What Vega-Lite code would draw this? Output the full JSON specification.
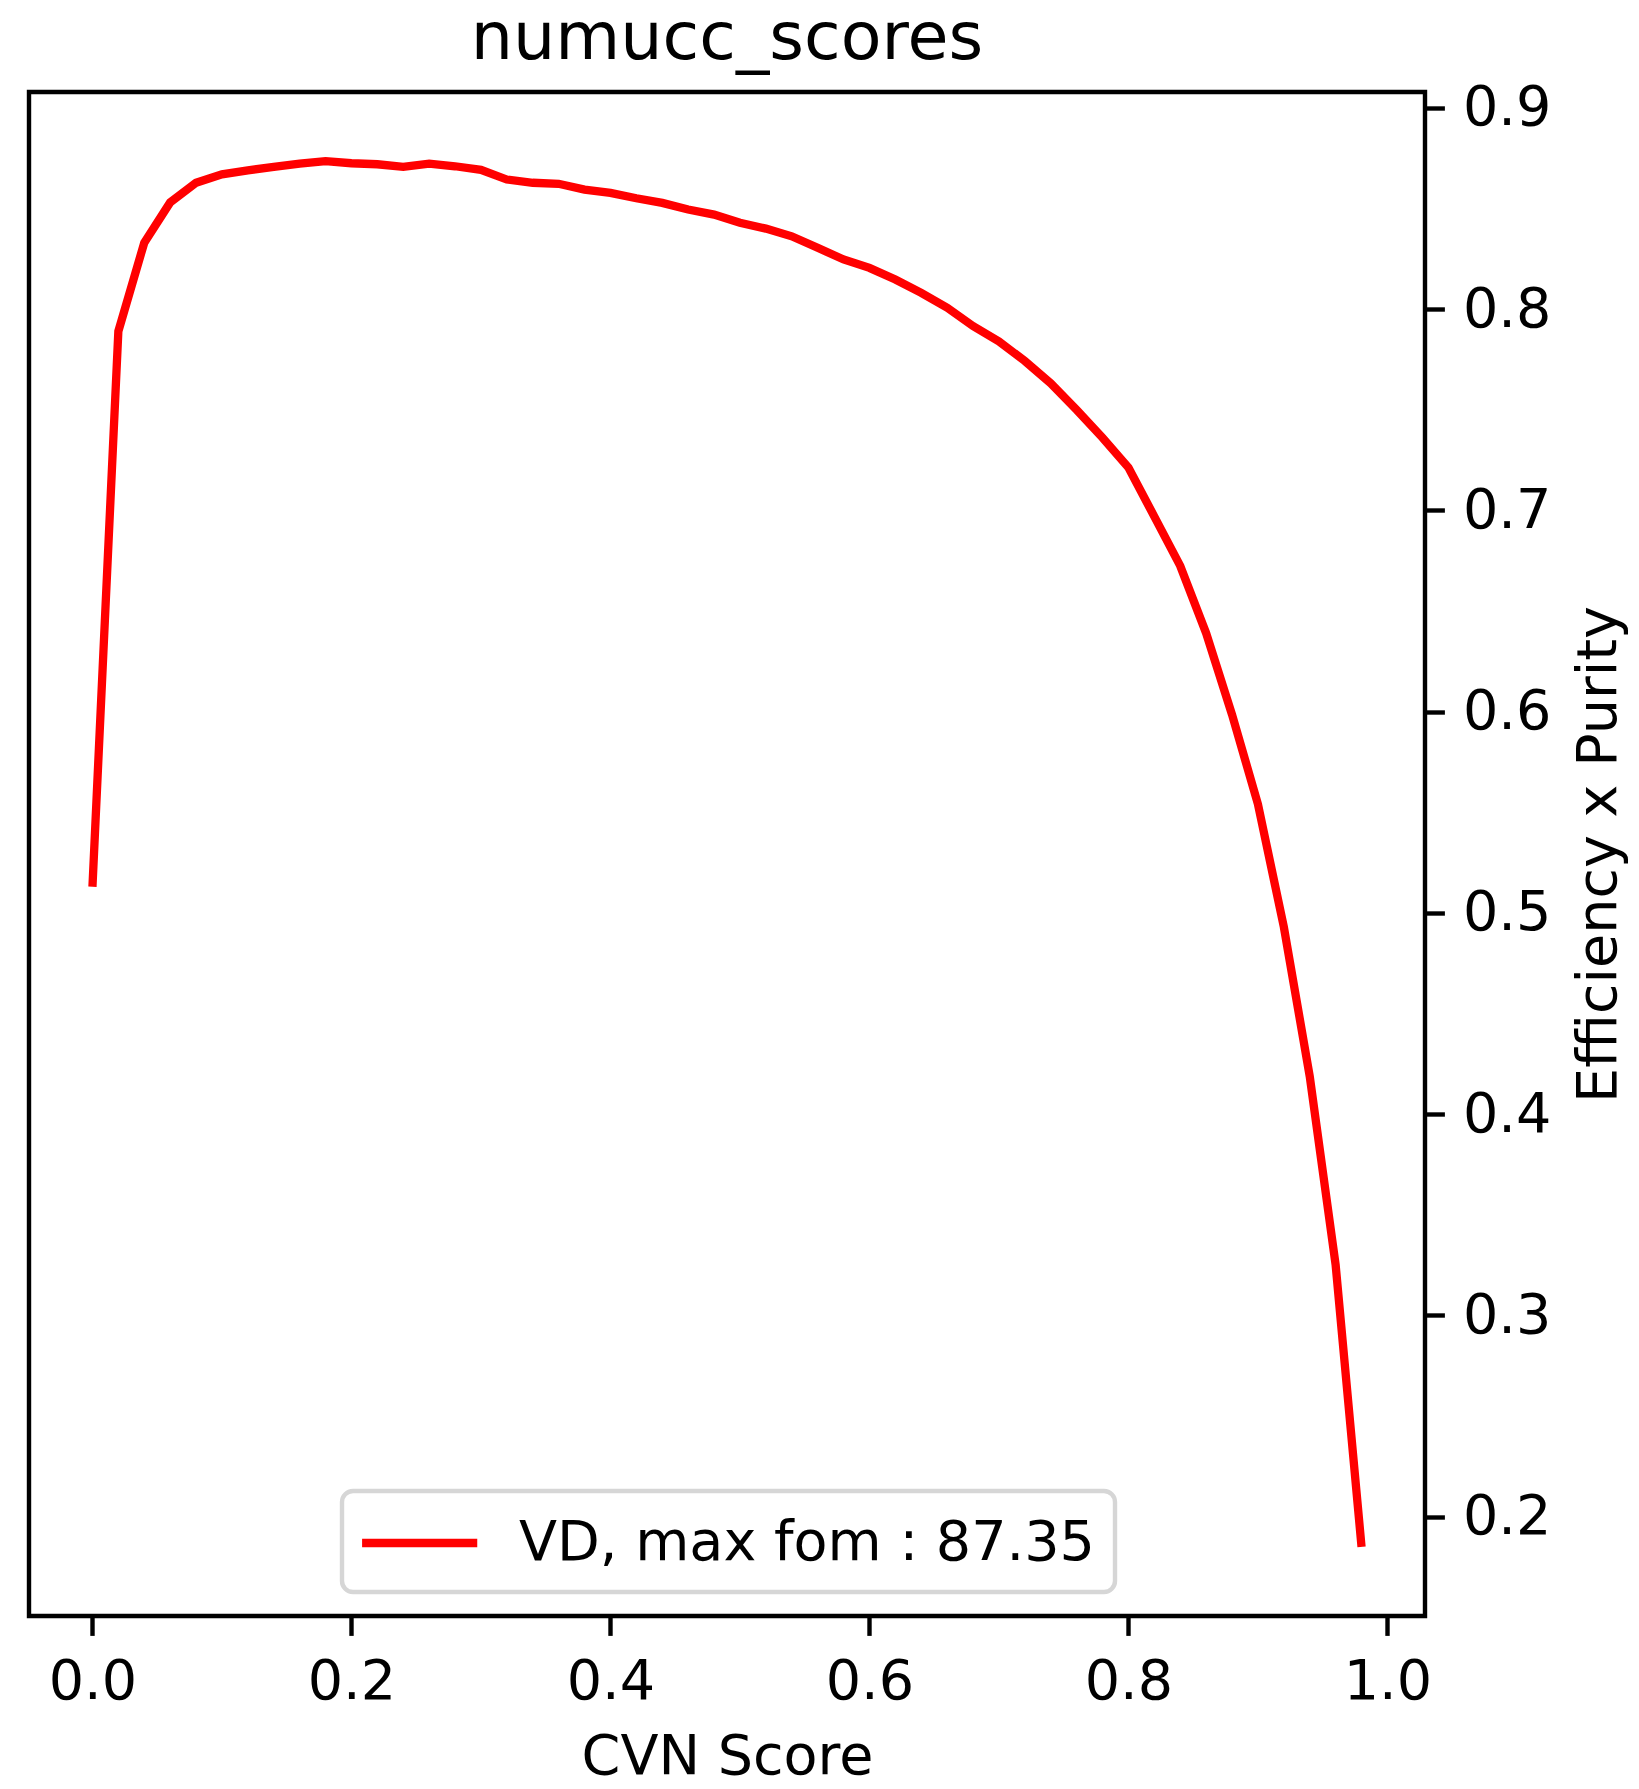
{
  "$schema": "https://vega.github.io/schema/vega-lite/v6.json",
  "width": 1396,
  "height": 1524,
  "autosize": {"type": "none"},
  "padding": {"left": 29, "top": 92, "right": 214, "bottom": 173},
  "background": "white",
  "title": {
    "text": "numucc_scores",
    "font": "DejaVu Sans",
    "fontSize": 66.7,
    "fontWeight": "normal",
    "color": "black",
    "anchor": "middle",
    "frame": "group",
    "baseline": "alphabetic",
    "offset": 32,
    "dy": 77
  },
  "config": {
    "view": {"stroke": "black", "strokeWidth": 4.4},
    "axis": {
      "domain": false,
      "grid": false,
      "ticks": true,
      "tickColor": "black",
      "tickWidth": 4.4,
      "tickSize": 19.4,
      "labelFont": "DejaVu Sans",
      "labelFontSize": 55.6,
      "labelColor": "black",
      "titleFont": "DejaVu Sans",
      "titleFontSize": 55.6,
      "titleFontWeight": "normal",
      "titleColor": "black"
    },
    "legend": {"strokeWidth": 4.4}
  },
  "data": {
    "values": [
      {"x": 0.00, "y": 0.513, "series": "VD, max fom : 87.35"},
      {"x": 0.02, "y": 0.789, "series": "VD, max fom : 87.35"},
      {"x": 0.04, "y": 0.833, "series": "VD, max fom : 87.35"},
      {"x": 0.06, "y": 0.853, "series": "VD, max fom : 87.35"},
      {"x": 0.08, "y": 0.8628, "series": "VD, max fom : 87.35"},
      {"x": 0.10, "y": 0.867, "series": "VD, max fom : 87.35"},
      {"x": 0.12, "y": 0.869, "series": "VD, max fom : 87.35"},
      {"x": 0.14, "y": 0.8707, "series": "VD, max fom : 87.35"},
      {"x": 0.16, "y": 0.8723, "series": "VD, max fom : 87.35"},
      {"x": 0.18, "y": 0.8735, "series": "VD, max fom : 87.35"},
      {"x": 0.20, "y": 0.8725, "series": "VD, max fom : 87.35"},
      {"x": 0.22, "y": 0.872, "series": "VD, max fom : 87.35"},
      {"x": 0.24, "y": 0.8707, "series": "VD, max fom : 87.35"},
      {"x": 0.26, "y": 0.8723, "series": "VD, max fom : 87.35"},
      {"x": 0.28, "y": 0.871, "series": "VD, max fom : 87.35"},
      {"x": 0.30, "y": 0.8692, "series": "VD, max fom : 87.35"},
      {"x": 0.32, "y": 0.8644, "series": "VD, max fom : 87.35"},
      {"x": 0.34, "y": 0.8628, "series": "VD, max fom : 87.35"},
      {"x": 0.36, "y": 0.8623, "series": "VD, max fom : 87.35"},
      {"x": 0.38, "y": 0.8594, "series": "VD, max fom : 87.35"},
      {"x": 0.40, "y": 0.8578, "series": "VD, max fom : 87.35"},
      {"x": 0.42, "y": 0.8551, "series": "VD, max fom : 87.35"},
      {"x": 0.44, "y": 0.8528, "series": "VD, max fom : 87.35"},
      {"x": 0.46, "y": 0.8495, "series": "VD, max fom : 87.35"},
      {"x": 0.48, "y": 0.847, "series": "VD, max fom : 87.35"},
      {"x": 0.50, "y": 0.8429, "series": "VD, max fom : 87.35"},
      {"x": 0.52, "y": 0.840, "series": "VD, max fom : 87.35"},
      {"x": 0.54, "y": 0.8362, "series": "VD, max fom : 87.35"},
      {"x": 0.56, "y": 0.8305, "series": "VD, max fom : 87.35"},
      {"x": 0.58, "y": 0.8247, "series": "VD, max fom : 87.35"},
      {"x": 0.60, "y": 0.8205, "series": "VD, max fom : 87.35"},
      {"x": 0.62, "y": 0.8147, "series": "VD, max fom : 87.35"},
      {"x": 0.64, "y": 0.8081, "series": "VD, max fom : 87.35"},
      {"x": 0.66, "y": 0.8007, "series": "VD, max fom : 87.35"},
      {"x": 0.68, "y": 0.7916, "series": "VD, max fom : 87.35"},
      {"x": 0.70, "y": 0.784, "series": "VD, max fom : 87.35"},
      {"x": 0.72, "y": 0.7742, "series": "VD, max fom : 87.35"},
      {"x": 0.74, "y": 0.7631, "series": "VD, max fom : 87.35"},
      {"x": 0.76, "y": 0.7499, "series": "VD, max fom : 87.35"},
      {"x": 0.78, "y": 0.7361, "series": "VD, max fom : 87.35"},
      {"x": 0.80, "y": 0.7213, "series": "VD, max fom : 87.35"},
      {"x": 0.82, "y": 0.6969, "series": "VD, max fom : 87.35"},
      {"x": 0.84, "y": 0.6724, "series": "VD, max fom : 87.35"},
      {"x": 0.86, "y": 0.639, "series": "VD, max fom : 87.35"},
      {"x": 0.88, "y": 0.5985, "series": "VD, max fom : 87.35"},
      {"x": 0.90, "y": 0.554, "series": "VD, max fom : 87.35"},
      {"x": 0.92, "y": 0.493, "series": "VD, max fom : 87.35"},
      {"x": 0.94, "y": 0.4187, "series": "VD, max fom : 87.35"},
      {"x": 0.96, "y": 0.325, "series": "VD, max fom : 87.35"},
      {"x": 0.98, "y": 0.185, "series": "VD, max fom : 87.35"}
    ]
  },
  "mark": {"type": "line", "strokeWidth": 8.3, "clip": true},
  "encoding": {
    "x": {
      "field": "x",
      "type": "quantitative",
      "scale": {"domain": [-0.049, 1.029], "nice": false, "zero": false},
      "axis": {
        "title": "CVN Score",
        "values": [0, 0.2, 0.4, 0.6, 0.8, 1.0],
        "format": ".1f",
        "labelPadding": 19,
        "labelBaseline": "top",
        "titleBaseline": "alphabetic",
        "titleY": 157
      }
    },
    "y": {
      "field": "y",
      "type": "quantitative",
      "scale": {"domain": [0.1506, 0.9079], "nice": false, "zero": false},
      "axis": {
        "orient": "right",
        "title": "Efficiency x Purity",
        "values": [0.2, 0.3, 0.4, 0.5, 0.6, 0.7, 0.8, 0.9],
        "format": ".1f",
        "labelPadding": 18,
        "labelBaseline": "middle",
        "titleAngle": 270,
        "titleAlign": "center",
        "titleBaseline": "alphabetic",
        "titleX": 190,
        "titleY": 762
      }
    },
    "color": {
      "field": "series",
      "type": "nominal",
      "scale": {"range": ["#ff0000"]},
      "legend": {
        "title": null,
        "orient": "none",
        "legendX": 313,
        "legendY": 1399,
        "symbolType": "M-1.15,0H3.0",
        "symbolSize": 3080,
        "symbolStrokeWidth": 8.3,
        "labelFont": "DejaVu Sans",
        "labelFontSize": 55.6,
        "labelColor": "black",
        "labelOffset": 93,
        "labelLimit": 0,
        "padding": 20,
        "strokeColor": "#d6d6d6",
        "fillColor": "white",
        "cornerRadius": 11
      }
    }
  }
}
